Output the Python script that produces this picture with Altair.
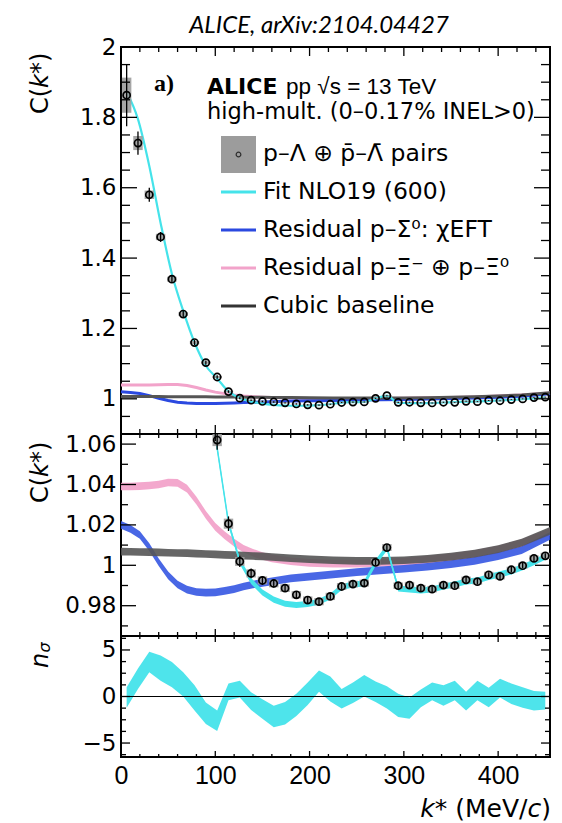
import altair as alt
import pandas as pd

# ---------------- data ----------------
k_bins = [6, 18, 30, 42, 54, 66, 78, 90, 102, 114, 126, 138, 150, 162, 174, 186, 198, 210, 222, 234,
          246, 258, 270, 282, 294, 306, 318, 330, 342, 354, 366, 378, 390, 402, 414, 426, 438, 450]
c_data = [1.863, 1.727, 1.580, 1.460, 1.340, 1.241, 1.160, 1.103, 1.062, 1.0206,
          1.0019, 0.9960, 0.9925, 0.9910, 0.9887, 0.9854, 0.9828, 0.9820, 0.9846, 0.9895,
          0.9907, 0.9912, 1.0014, 1.0088, 0.9899, 0.9902, 0.9887, 0.9882, 0.9902, 0.9899,
          0.9928, 0.9919, 0.9953, 0.9945, 0.9978, 0.9998, 1.0034, 1.0047]
c_stat = [0.088, 0.033, 0.020, 0.014, 0.011, 0.009, 0.007, 0.006, 0.0048, 0.0036,
          0.0028, 0.0024, 0.0022, 0.0020, 0.0019, 0.0018, 0.0017, 0.0017, 0.0016, 0.0016,
          0.0016, 0.0015, 0.0015, 0.0015, 0.0015, 0.0014, 0.0014, 0.0014, 0.0014, 0.0014,
          0.0014, 0.0013, 0.0013, 0.0013, 0.0013, 0.0013, 0.0013, 0.0013]
c_syst = [0.050, 0.020, 0.012, 0.009, 0.007, 0.0055, 0.0045, 0.0035, 0.0030, 0.0025,
          0.0022, 0.0020, 0.0020, 0.0019, 0.0019, 0.0018, 0.0018, 0.0018, 0.0018, 0.0017,
          0.0017, 0.0017, 0.0017, 0.0017, 0.0016, 0.0016, 0.0016, 0.0016, 0.0016, 0.0016,
          0.0016, 0.0015, 0.0015, 0.0015, 0.0015, 0.0015, 0.0015, 0.0015]
fit_c = [1.872, 1.795, 1.662, 1.500, 1.355, 1.250, 1.160, 1.094, 1.058, 1.021,
         1.002, 0.9922, 0.9865, 0.9830, 0.9810, 0.9803, 0.9808, 0.9820, 0.9846, 0.9893,
         0.9905, 0.9910, 1.0012, 1.0088, 0.9885, 0.9880, 0.9876, 0.9880, 0.9895, 0.9905,
         0.9920, 0.9925, 0.9942, 0.9955, 0.9970, 0.9990, 1.0015, 1.0042]
FIT_HW = 0.0015
nsig_c = [-0.1, 1.9, 3.7, 3.05, 2.35, 1.3, -0.15, -1.8, -2.6, 0.5,
          0.8, -0.5, -1.35, -2.15, -1.8, -0.9, 0.3, 1.65, 0.8, -0.25,
          0.4, 1.15, 0.5, -0.1, -0.95, -1.25, -0.2, 0.55, 0.1, 0.65,
          -0.5, 0.65, -0.1, 0.9, 0.3, -0.1, -0.45, -0.45]
nsig_hw = [1.1, 1.1, 1.1, 1.35, 1.35, 1.3, 1.35, 1.15, 1.1, 0.9,
           0.9, 0.95, 1.05, 1.15, 1.2, 1.2, 1.2, 1.15, 1.35, 1.05,
           1.1, 1.15, 1.1, 1.2, 1.25, 1.15, 0.95, 0.95, 1.1, 1.05,
           1.0, 1.05, 1.05, 1.0, 1.1, 1.1, 1.05, 0.95]

k_res = [0, 10, 20, 30, 40, 50, 60, 70, 80, 90, 100, 110, 120, 130, 140, 150, 160,
         180, 200, 225, 250, 275, 300, 325, 350, 375, 400, 425, 455]
sigma_res = [1.0200, 1.0180, 1.0150, 1.0090, 1.0015, 0.9950, 0.9905, 0.9880, 0.9868, 0.9865,
             0.9866, 0.9873, 0.9882, 0.9895, 0.9905, 0.9913, 0.9920,
             0.9935, 0.9944, 0.9955, 0.9966, 0.9975, 0.9983, 0.9993, 1.0006, 1.0022, 1.0045, 1.0075, 1.0145]
xi_res = [1.0390, 1.0390, 1.0392, 1.0395, 1.0400, 1.0410, 1.0408, 1.0380, 1.0320, 1.0250,
          1.0190, 1.0148, 1.0112, 1.0082, 1.0062, 1.0046, 1.0034,
          1.0020, 1.0012, 1.0008, 1.0008, 1.0012, 1.0018, 1.0028, 1.0040, 1.0055, 1.0078, 1.0110, 1.0165]
baseline = [1.0068, 1.0067, 1.0066, 1.0065, 1.0064, 1.0062, 1.0061, 1.0060, 1.0058, 1.0056,
            1.0054, 1.0052, 1.0050, 1.0048, 1.0046, 1.0044, 1.0041,
            1.0035, 1.0030, 1.0025, 1.0022, 1.0022, 1.0025, 1.0032, 1.0043, 1.0058, 1.0080, 1.0112, 1.0170]
RES_HW = 0.0019

x_major = [0, 100, 200, 300, 400]
x_minor = [20, 40, 60, 80, 120, 140, 160, 180, 220, 240, 260, 280, 320, 340, 360, 380, 420, 440]
y1_major = [1.0, 1.2, 1.4, 1.6, 1.8, 2.0]
y1_minor = [0.95, 1.05, 1.1, 1.15, 1.25, 1.3, 1.35, 1.45, 1.5, 1.55, 1.65, 1.7, 1.75, 1.85, 1.9, 1.95]
y2_major = [0.98, 1.0, 1.02, 1.04, 1.06]
y2_minor = [0.97, 0.99, 1.01, 1.03, 1.05]
y3_major = [-5, 0, 5]
y3_minor = [-6.25, -3.75, -2.5, -1.25, 1.25, 2.5, 3.75, 6.25]

# ---------------- tables ----------------
pts = pd.DataFrame({"k": k_bins, "C": c_data, "stat": c_stat, "syst": c_syst})
pts["lo"] = pts.C - pts.stat
pts["hi"] = pts.C + pts.stat
pts["slo"] = pts.C - pts.syst
pts["shi"] = pts.C + pts.syst
pts["kl"] = pts.k - 5
pts["kr"] = pts.k + 5
fit = pd.DataFrame({"k": k_bins, "C": fit_c})
fit["lo"] = fit.C - FIT_HW
fit["hi"] = fit.C + FIT_HW
ns = pd.DataFrame({"k": k_bins, "c": nsig_c, "hw": nsig_hw})
ns["lo"] = ns.c - ns.hw
ns["hi"] = ns.c + ns.hw
res = pd.DataFrame({"k": k_res, "sig": sigma_res, "xi": xi_res, "base": baseline})
for col in ["sig", "xi", "base"]:
    res[col + "_lo"] = res[col] - RES_HW
    res[col + "_hi"] = res[col] + RES_HW

# ---------------- style ----------------
W = 429
H1, H2, H3 = 387, 202, 121
CYAN = "#45e3ea"
BLUE = "#2b49e0"
PINK = "#f2a3ca"
GREY = "#555555"
BOX = "#9c9c9c"
FONT = "DejaVu Sans"

xs = alt.Scale(domain=[0, 455], nice=False, zero=False)
ys1 = alt.Scale(domain=[0.9, 2.0], nice=False, zero=False)
ys2 = alt.Scale(domain=[0.965, 1.065], nice=False, zero=False)
ys3 = alt.Scale(domain=[-6.5, 6.5], nice=False, zero=False)

def yaxis(vals):
    return alt.Axis(values=vals, format="~g", labelFont=FONT, labelFontSize=23, labelPadding=5,
                    labelFlush=False, labelOverlap=False, ticks=False, domain=False, grid=False,
                    labelColor="black", title=None)

ax1, ax2, ax3 = yaxis(y1_major), yaxis(y2_major), yaxis(y3_major)
xax3 = alt.Axis(values=x_major, format="d", labelFont="Liberation Sans", labelFontSize=25,
                labelPadding=6, labelFlush=False, labelOverlap=False, ticks=False, domain=False,
                grid=False, labelColor="black", title=None)

one = alt.Data(values=[{}])


def txt(s, x, y, size=22, font=FONT, weight="normal", style="normal", align="left",
        baseline="alphabetic", angle=None, color="black"):
    kw = dict(text=s, font=font, fontSize=size, fontWeight=weight, fontStyle=style,
              align=align, baseline=baseline, color=color)
    if angle is not None:
        kw["angle"] = angle
    return alt.Chart(one).mark_text(**kw).encode(x=alt.value(x), y=alt.value(y))


def X(field, xaxis):
    return alt.X(field, type="quantitative", scale=xs, axis=xaxis)


def tick_layers(H, ysc, yax, xaxis, ymaj, ymin, xlen, ylen):
    out = []
    for vals, L in ((x_major, xlen[0]), (x_minor, xlen[1])):
        base = alt.Chart(pd.DataFrame({"t": vals})).mark_rule(color="black", strokeWidth=1.3)
        out.append(base.encode(x=X("t", xaxis), y=alt.value(H), y2=alt.value(H - L)))
        out.append(base.encode(x=X("t", xaxis), y=alt.value(0), y2=alt.value(L)))
    for vals, L in ((ymaj, ylen[0]), (ymin, ylen[1])):
        base = alt.Chart(pd.DataFrame({"t": vals})).mark_rule(color="black", strokeWidth=1.3)
        yy = alt.Y("t:Q", scale=ysc, axis=yax)
        out.append(base.encode(y=yy, x=alt.value(0), x2=alt.value(L)))
        out.append(base.encode(y=yy, x=alt.value(W), x2=alt.value(W - L)))
    return out


def ck_title(ybottom):
    return [
        txt("C(", -80, ybottom, size=24, baseline="middle", angle=270),
        txt("k", -80, ybottom - 26.1, size=24, style="italic", baseline="middle", angle=270),
        txt("*)", -80, ybottom - 40.0, size=24, baseline="middle", angle=270),
    ]


def data_layers(ysc, yax, xaxis, clip):
    boxes = alt.Chart(pts).mark_rect(color=BOX, opacity=0.9, clip=clip).encode(
        x=X("kl", xaxis), x2="kr", y=alt.Y("slo:Q", scale=ysc, axis=yax), y2="shi")
    errs = alt.Chart(pts).mark_rule(color="black", strokeWidth=1.3, clip=clip).encode(
        x=X("k", xaxis), y=alt.Y("lo:Q", scale=ysc, axis=yax), y2="hi")
    dots = alt.Chart(pts).mark_point(shape="circle", filled=False, color="black", size=50,
                                     strokeWidth=1.7, opacity=1, clip=clip).encode(
        x=X("k", xaxis), y=alt.Y("C:Q", scale=ysc, axis=yax))
    return [boxes, errs, dots]


# ---------------- top panel ----------------
top_layers = []
for col, colr in (("xi", PINK), ("sig", BLUE), ("base", GREY)):
    top_layers.append(alt.Chart(res).mark_line(color=colr, strokeWidth=3).encode(
        x=X("k", None), y=alt.Y(col + ":Q", scale=ys1, axis=ax1)))
top_layers.append(alt.Chart(fit).mark_line(color=CYAN, strokeWidth=2.2, interpolate="monotone").encode(
    x=X("k", None), y=alt.Y("C:Q", scale=ys1, axis=ax1)))
top_layers += data_layers(ys1, ax1, None, False)
top_layers += tick_layers(H1, ys1, ax1, None, y1_major, y1_minor, (9, 5), (16, 9))
top_layers += ck_title(67)
top_layers += [
    txt("ALICE, arXiv:2104.04427", 198, -14, size=24, font="Lato", style="italic", align="center"),
    txt("a)", 33, 44, size=24, font="Liberation Serif", weight="bold"),
    txt("ALICE", 86, 47, size=22, weight="bold"),
    txt("pp  √s = 13 TeV", 165, 47, size=22.5, font="Liberation Sans"),
    txt("high-mult. (0–0.17% INEL>0)", 86, 72, size=22.5),
    alt.Chart(one).mark_rect(color=BOX).encode(x=alt.value(100), x2=alt.value(135),
                                               y=alt.value(89), y2=alt.value(126)),
    alt.Chart(one).mark_point(shape="circle", filled=False, color="black", size=22, strokeWidth=1.2).encode(
        x=alt.value(117.5), y=alt.value(107.5)),
    txt("p–Λ ⊕ p\u0304–Λ\u0304 pairs", 142, 114, size=23.5),
]
for yy, colr, label in ((145, CYAN, "Fit NLO19 (600)"),
                        (183, BLUE, "Residual p–Σ⁰: χEFT"),
                        (221, PINK, "Residual p–Ξ⁻ ⊕ p–Ξ⁰"),
                        (259, "#333333", "Cubic baseline")):
    top_layers.append(alt.Chart(one).mark_rule(color=colr, strokeWidth=3).encode(
        x=alt.value(100), x2=alt.value(135), y=alt.value(yy)))
    top_layers.append(txt(label, 142, yy + 7, size=23.5))

top = alt.layer(*top_layers).properties(width=W, height=H1)

# ---------------- middle panel ----------------
mid_layers = []
for col, colr, op in (("xi", PINK, 0.95), ("sig", "#3556e2", 0.9), ("base", GREY, 0.9)):
    mid_layers.append(alt.Chart(res).mark_area(color=colr, opacity=op, clip=True).encode(
        x=X("k", None), y=alt.Y(col + "_lo:Q", scale=ys2, axis=ax2), y2=col + "_hi"))
mid_layers.append(alt.Chart(fit).mark_area(color=CYAN, clip=True).encode(
    x=X("k", None), y=alt.Y("lo:Q", scale=ys2, axis=ax2), y2="hi"))
mid_layers.append(alt.Chart(fit).mark_line(color=CYAN, strokeWidth=1.5, clip=True).encode(
    x=X("k", None), y=alt.Y("C:Q", scale=ys2, axis=ax2)))
mid_layers += data_layers(ys2, ax2, None, True)
mid_layers += tick_layers(H2, ys2, ax2, None, y2_major, y2_minor, (7, 4), (15, 7))
mid_layers += ck_title(69)
mid = alt.layer(*mid_layers).properties(width=W, height=H2)

# ---------------- bottom panel ----------------
bot_layers = [
    alt.Chart(ns).mark_area(color=CYAN, opacity=0.95).encode(
        x=X("k", xax3), y=alt.Y("lo:Q", scale=ys3, axis=ax3), y2="hi"),
    alt.Chart(one).mark_rule(color="black", strokeWidth=1.2).encode(
        y=alt.Y(datum=0, scale=ys3, axis=ax3)),
]
bot_layers += tick_layers(H3, ys3, ax3, xax3, y3_major, y3_minor, (6, 3), (9, 5))
bot_layers += [
    txt("n", -80, 32, size=24, style="italic", baseline="middle", angle=270),
    txt("σ", -76, 16.5, size=16, style="italic", baseline="middle", angle=270),
    txt(")", 430, 181, size=25, align="right"),
    txt("c", 420.3, 181, size=25, style="italic", align="right"),
    txt("(MeV/", 406.5, 181, size=25, align="right"),
    txt("*", 326.3, 181, size=25, align="right"),
    txt("k", 313.8, 181, size=25, style="italic", align="right"),
]
bot = alt.layer(*bot_layers).properties(width=W, height=H3)

chart = alt.vconcat(top, mid, bot, spacing=0, bounds="flush").properties(
    padding={"left": 28, "top": 13, "right": 5, "bottom": 2}
).configure_view(stroke="black", strokeWidth=2).configure_axis(grid=False)

chart.save("out.html", embed_options={"renderer": "svg", "actions": False})
